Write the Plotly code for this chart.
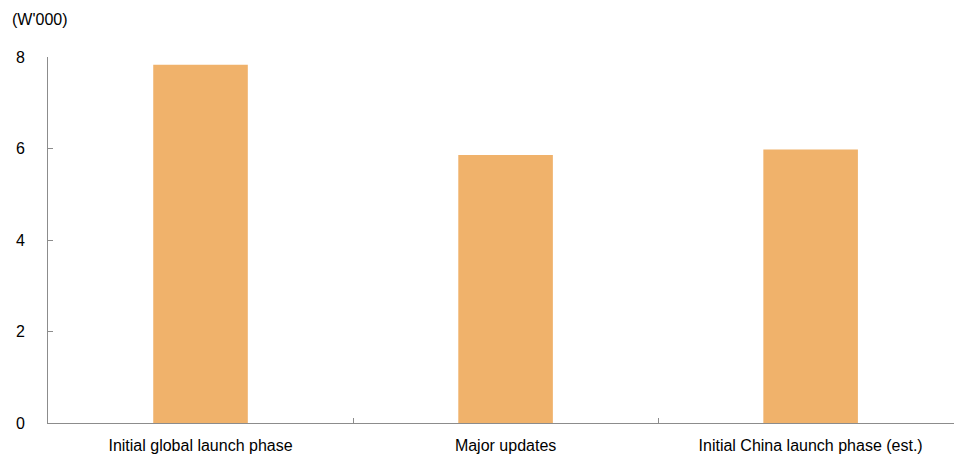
import plotly.graph_objects as go

categories = ["Initial global launch phase", "Major updates", "Initial China launch phase (est.)"]
values = [7.83, 5.86, 5.98]
y_ticks = [0, 2, 4, 6, 8]
unit_label = "(W'000)"

bar_color = "#F0B26B"
axis_color = "#8C8C8C"
font = dict(family="Liberation Sans, Arial, sans-serif", size=16, color="#000000")

fig = go.Figure(go.Bar(x=categories, y=values, marker=dict(color=bar_color, line=dict(width=0)),
                       width=0.31))

fig.update_layout(
    width=954, height=457,
    margin=dict(l=48, r=0, t=57, b=34),
    plot_bgcolor="white", paper_bgcolor="white",
    font=font, showlegend=False,
)
fig.update_xaxes(
    range=[-0.5, 2.47], showline=True, linecolor=axis_color, linewidth=1,
    ticks="inside", tickson="boundaries", ticklen=5, tickcolor=axis_color,
    showgrid=False, zeroline=False, tickfont=font, ticklabelstandoff=8,
)
fig.update_yaxes(
    range=[0, 8], tickvals=y_ticks, showline=True, linecolor=axis_color, linewidth=1,
    ticks="inside", ticklen=5, tickcolor=axis_color, showgrid=False, zeroline=False,
    tickfont=font, ticklabelstandoff=19,
)
fig.add_annotation(text=unit_label, xref="paper", yref="paper", x=-48/906, y=1 + 38/366,
                   xanchor="left", yanchor="middle", showarrow=False, xshift=10, font=font)

fig.write_html("out.html")
